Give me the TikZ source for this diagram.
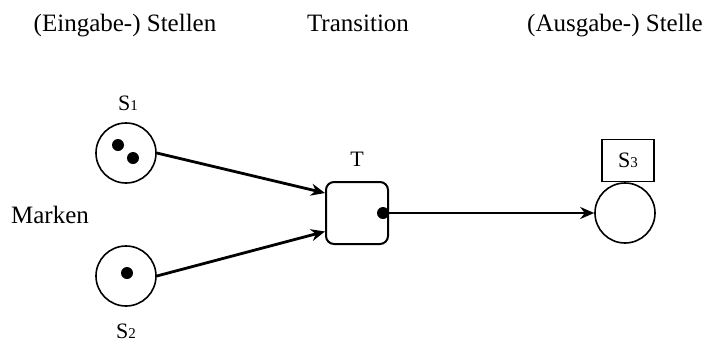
\documentclass[tikz,border=0pt]{standalone}
\usepackage{fontspec}
\setmainfont{Liberation Serif}
\usetikzlibrary{arrows.meta, calc, positioning}

% small index after the place letter
\newcommand{\stelle}[1]{S{\fontsize{7.5}{8}\selectfont #1}}

\begin{document}
\begin{tikzpicture}[x=0.5pt, y=-0.5pt,
    place/.style={circle, draw, line width=0.8pt, minimum size=30pt, inner sep=0pt},
    trans/.style={rectangle, draw, line width=1pt, rounded corners=4pt, minimum size=31pt, inner sep=0pt},
    namebox/.style={rectangle, draw, line width=0.7pt, minimum width=26pt, minimum height=21pt, inner sep=0pt},
    token/.style={circle, fill, minimum size=6pt, inner sep=0pt},
    title/.style={anchor=base, font=\fontsize{12.5}{15}\selectfont},
    lab/.style={anchor=base, font=\fontsize{11}{13}\selectfont},
    arc/.style={line width=1.4pt, -{Stealth[length=7pt, width=6pt]}}]
    \useasboundingbox (0,0) rectangle (709,344);

    % Headings
    \node[title] (hin) at (125,31) {(Eingabe-) Stellen};
    \node[title] (htr) at (358,31) {Transition};
    \node[title] (hout) at (615,31) {(Ausgabe-) Stelle};
    \node[title] (marken) at (50,223) {Marken};

    % Places with tokens
    \node[place] (s1) at (126,153) {};
    \node[token] (m1) at (118,145) {};
    \node[token] (m2) at (133,158) {};
    \node[lab] (s1lab) at (128,110) {\stelle{1}};

    \node[place] (s2) at (126,276) {};
    \node[token] (m3) at (127,273) {};
    \node[lab] (s2lab) at (126,338) {\stelle{2}};

    % Transition
    \node[trans] (t) at (357,213) {};
    \node[lab] (tlab) at (357,166) {T};
    \coordinate (tout) at ($(t.east)+(-6,0)$);
    \fill (tout) circle (6);

    % Output place
    \node[place] (s3) at (625,213) {};
    \node[namebox, above=0pt of s3, xshift=1.5pt] (s3box) {\fontsize{11}{13}\selectfont\stelle{3}};

    % Arcs
    \draw[arc] (s1.east) -- (t.148);
    \draw[arc] (s2.east) -- (t.210);
    \draw[arc] (tout) -- (s3.west);
\end{tikzpicture}
\end{document}
